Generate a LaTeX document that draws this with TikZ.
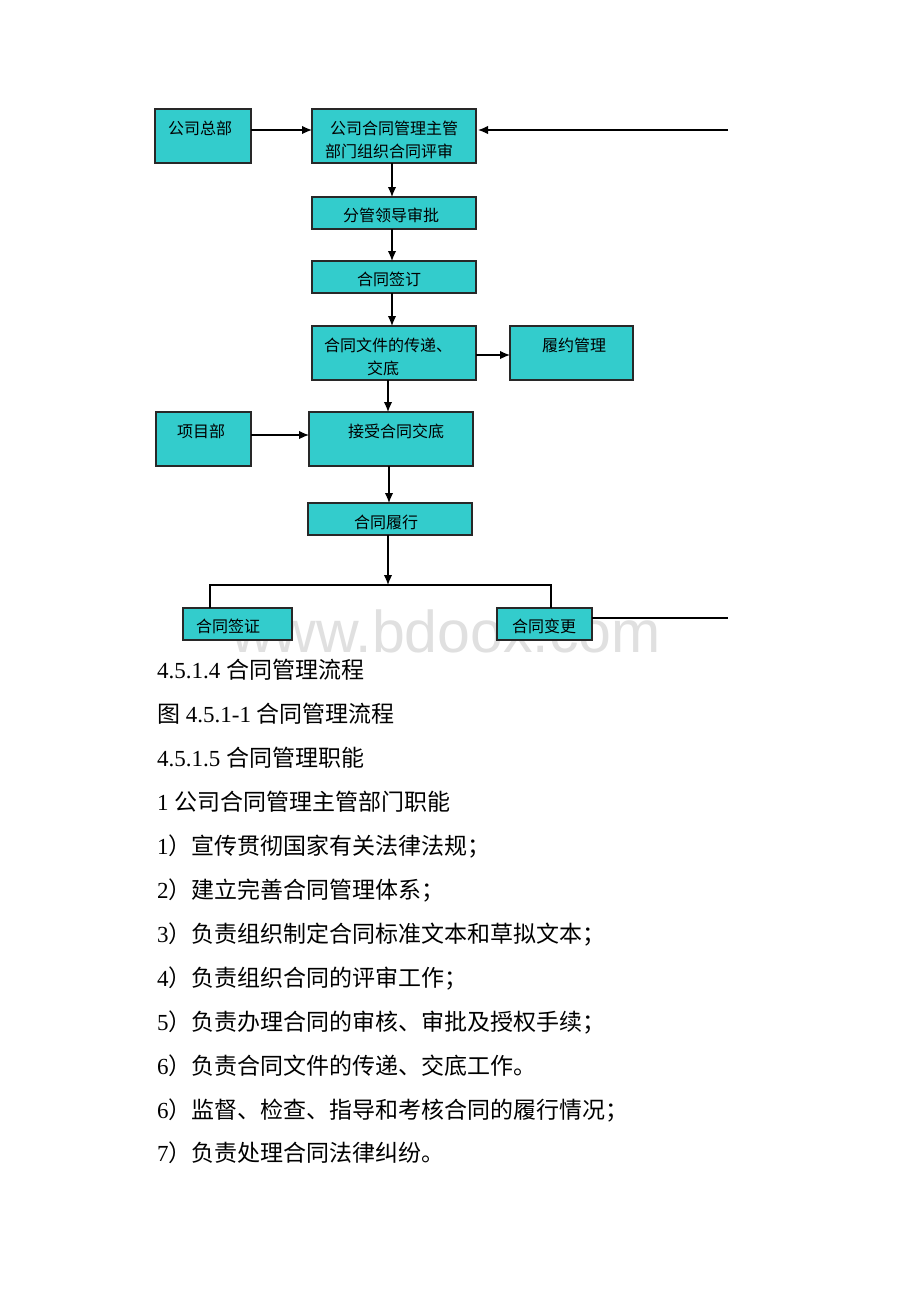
\documentclass[tikz,border=0pt]{standalone}
\usepackage{fontspec}
\setmainfont{Liberation Serif}
\newfontfamily\cjk{Noto Sans CJK SC}
\newfontfamily\wmfont{Liberation Sans}
\usetikzlibrary{arrows.meta}
\definecolor{boxfill}{RGB}{51,204,204}
\definecolor{boxline}{RGB}{40,40,40}
\newcommand\zh[1]{{\cjk #1}}
\tikzset{
  box/.style={draw=boxline, fill=boxfill, line width=1.2pt, rectangle, inner sep=0pt, outer sep=0pt},
  boxtext/.style={inner sep=0pt, font=\cjk\fontsize{16}{19}\selectfont},
  arr/.style={line width=1.3pt, -{Latex[length=10pt,width=8.5pt]}},
  conn/.style={line width=1.1pt},
  body/.style={anchor=west, inner sep=0pt, font=\fontsize{23}{27}\selectfont},
  wm/.style={anchor=base west, inner sep=0pt, text=black!12, font=\wmfont\fontsize{59}{59}\selectfont}
}
\begin{document}
\begin{tikzpicture}[x=1pt,y=-1pt]
\useasboundingbox (0,0) rectangle (920,1302);
\fill[white] (0,0) rectangle (920,1302);
% watermark
\node[wm] (wmark) at (231,652) {www.bdoox.com};
% boxes
\node[box, minimum width=96pt, minimum height=54pt] (hq) at (203,136) {};
\node[box, minimum width=164pt, minimum height=54pt] (main) at (394,136) {};
\node[box, minimum width=164pt, minimum height=32pt] (appr) at (394,213) {};
\node[box, minimum width=164pt, minimum height=32pt] (sign) at (394,277) {};
\node[box, minimum width=164pt, minimum height=54pt] (doc) at (394,353) {};
\node[box, minimum width=123pt, minimum height=54pt] (perf) at (571.5,353) {};
\node[box, minimum width=95pt, minimum height=54pt] (proj) at (203.5,439) {};
\node[box, minimum width=164pt, minimum height=54pt] (recv) at (391,439) {};
\node[box, minimum width=164pt, minimum height=32pt] (exec) at (390,519) {};
\node[box, minimum width=109pt, minimum height=32pt] (visa) at (237.5,624) {};
\node[box, minimum width=95pt, minimum height=32pt] (chg) at (544.5,624) {};
% box texts
\node[boxtext] (t-hq) at (200,128) {公司总部};
\node[boxtext] (t-main1) at (394,128) {公司合同管理主管};
\node[boxtext] (t-main2) at (389,151) {部门组织合同评审};
\node[boxtext] (t-appr) at (391,215) {分管领导审批};
\node[boxtext] (t-sign) at (389,279) {合同签订};
\node[boxtext] (t-doc1) at (388,345) {合同文件的传递、};
\node[boxtext] (t-doc2) at (383,368) {交底};
\node[boxtext] (t-perf) at (574,345) {履约管理};
\node[boxtext] (t-proj) at (201,431) {项目部};
\node[boxtext] (t-recv) at (396,431) {接受合同交底};
\node[boxtext] (t-exec) at (386,522) {合同履行};
\node[boxtext] (t-visa) at (228,626) {合同签证};
\node[boxtext] (t-chg) at (544,626) {合同变更};
% free ends and junctions
\coordinate (rin) at (728,130);
\coordinate (rout) at (728,618);
\coordinate (j) at (388,585);
\coordinate (jl) at (210,585);
\coordinate (jr) at (551,585);
% connectors
\draw[arr] ([yshift=6pt]hq.east) -- ([yshift=6pt]main.west);
\draw[arr] (rin) -- ([yshift=6pt,xshift=2pt]main.east);
\draw[arr] ([xshift=-2pt]main.south) -- ([xshift=-2pt]appr.north);
\draw[arr] ([xshift=-2pt]appr.south) -- ([xshift=-2pt]sign.north);
\draw[arr] ([xshift=-2pt]sign.south) -- ([xshift=-2pt]doc.north);
\draw[arr] ([yshift=-2pt]doc.east) -- ([yshift=-2pt]perf.west);
\draw[arr] ([xshift=-6pt]doc.south) -- ([xshift=-6pt]doc.south |- recv.north);
\draw[arr] ([yshift=4pt]proj.east) -- ([yshift=4pt]proj.east -| recv.west);
\draw[arr] ([xshift=-2pt]recv.south) -- ([xshift=-2pt]recv.south |- exec.north);
\draw[arr] (exec.south -| j) -- (j);
\draw[conn] (jl |- visa.north) -- (jl) -- (jr) -- (jr |- chg.north);
\draw[conn] ([yshift=6pt]chg.east) -- (rout);
% body text
\node[body] (p1) at (157,670) {4.5.1.4 \zh{合同管理流程}};
\node[body] (p2) at (157,714) {\zh{图} 4.5.1-1 \zh{合同管理流程}};
\node[body] (p3) at (157,758) {4.5.1.5 \zh{合同管理职能}};
\node[body] (p4) at (157,802) {1 \zh{公司合同管理主管部门职能}};
\node[body] (p5) at (157,846) {1\zh{）宣传贯彻国家有关法律法规；}};
\node[body] (p6) at (157,890) {2\zh{）建立完善合同管理体系；}};
\node[body] (p7) at (157,934) {3\zh{）负责组织制定合同标准文本和草拟文本；}};
\node[body] (p8) at (157,978) {4\zh{）负责组织合同的评审工作；}};
\node[body] (p9) at (157,1022) {5\zh{）负责办理合同的审核、审批及授权手续；}};
\node[body] (p10) at (157,1066) {6\zh{）负责合同文件的传递、交底工作。}};
\node[body] (p11) at (157,1110) {6\zh{）监督、检查、指导和考核合同的履行情况；}};
\node[body] (p12) at (157,1153) {7\zh{）负责处理合同法律纠纷。}};
\end{tikzpicture}
\end{document}
